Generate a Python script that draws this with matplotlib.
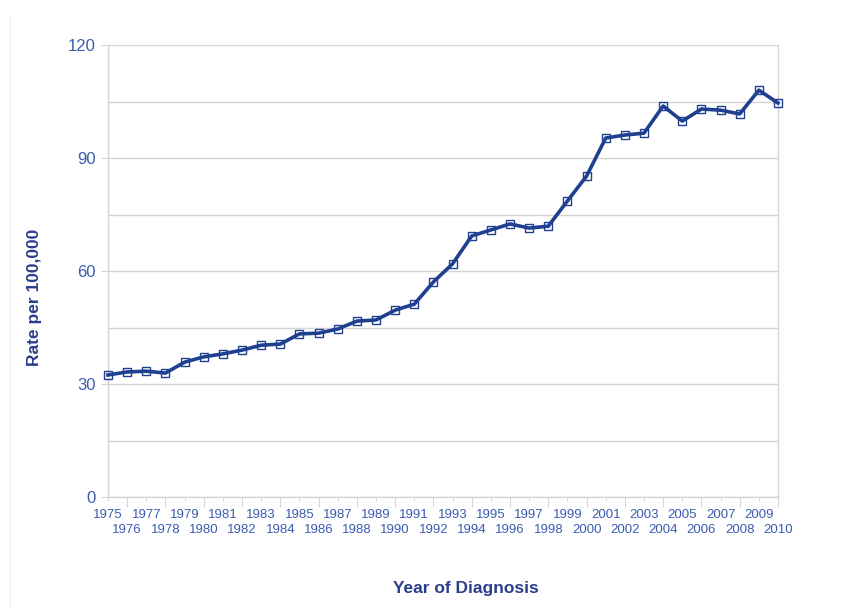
import matplotlib.pyplot as plt
from matplotlib.lines import Line2D

plt.rcParams['font.family'] = ['Liberation Sans', 'DejaVu Sans']

# Incidence rate per 100,000 by year of diagnosis
years = list(range(1975, 2011))
rates = [32.4, 33.2, 33.4, 32.9, 35.8, 37.2, 38.0, 39.0, 40.3, 40.6,
         43.3, 43.5, 44.6, 46.7, 47.0, 49.6, 51.2, 57.1, 61.9, 69.3,
         70.9, 72.5, 71.4, 71.9, 78.6, 85.2, 95.3, 96.1, 96.6, 103.8,
         99.8, 103.0, 102.7, 101.7, 108.0, 104.6]
y_ticks = [0, 30, 60, 90, 120]
y_grid = [15, 45, 75, 105]

line_col = '#1f3f91'
tick_col = '#3b5cb2'
label_col = '#2a3f8c'
grid_col = '#d4d4d4'

fig = plt.figure(figsize=(8.45, 6.08), dpi=100)
ax = fig.add_axes([108 / 845, 1 - 497 / 608, 670 / 845, 452 / 608])

ax.plot(years, rates, color=line_col, linewidth=2.6, marker='s', markersize=6,
        markerfacecolor='none', markeredgecolor=line_col, markeredgewidth=1.0,
        clip_on=False, zorder=3)

ax.set_xlim(1975, 2010)
ax.set_ylim(0, 120)

# horizontal grid
for v in y_ticks + y_grid:
    ax.axhline(v, color=grid_col, linewidth=1, zorder=1)

ax.spines['top'].set_visible(False)
for side in ['left', 'right', 'bottom']:
    ax.spines[side].set_color(grid_col)
    ax.spines[side].set_linewidth(1)

ax.set_yticks(y_ticks)
ax.set_yticklabels([str(v) for v in y_ticks])
ax.tick_params(axis='y', length=5, color=grid_col, labelcolor=tick_col,
               labelsize=12, pad=4)

# x axis: even years on lower row with long ticks, odd years on upper row
even = [y for y in years if y % 2 == 0]
odd = [y for y in years if y % 2 == 1]
ax.set_xticks(even)
ax.set_xticklabels([str(y) for y in even])
ax.set_xticks(odd, minor=True)
ax.set_xticklabels([str(y) for y in odd], minor=True)
ax.tick_params(axis='x', which='major', length=7, color=grid_col,
               labelcolor=tick_col, labelsize=9.5, pad=12.5)
ax.tick_params(axis='x', which='minor', length=3, color=grid_col,
               labelcolor=tick_col, labelsize=9.5, pad=6)

fig.text(466 / 845, 1 - 589 / 608, 'Year of Diagnosis', ha='center', va='center',
         fontsize=12.5, fontweight='bold', color=label_col)
fig.text(35 / 845, 1 - 297 / 608, 'Rate per 100,000', ha='center', va='center',
         rotation=90, fontsize=12.5, fontweight='bold', color=label_col)

# faint page border on the left
fig.add_artist(Line2D([10 / 845, 10 / 845], [0, 1 - 15 / 608],
                      transform=fig.transFigure, color='#eeeeee', linewidth=1))

fig.savefig('out.png', dpi=100)
